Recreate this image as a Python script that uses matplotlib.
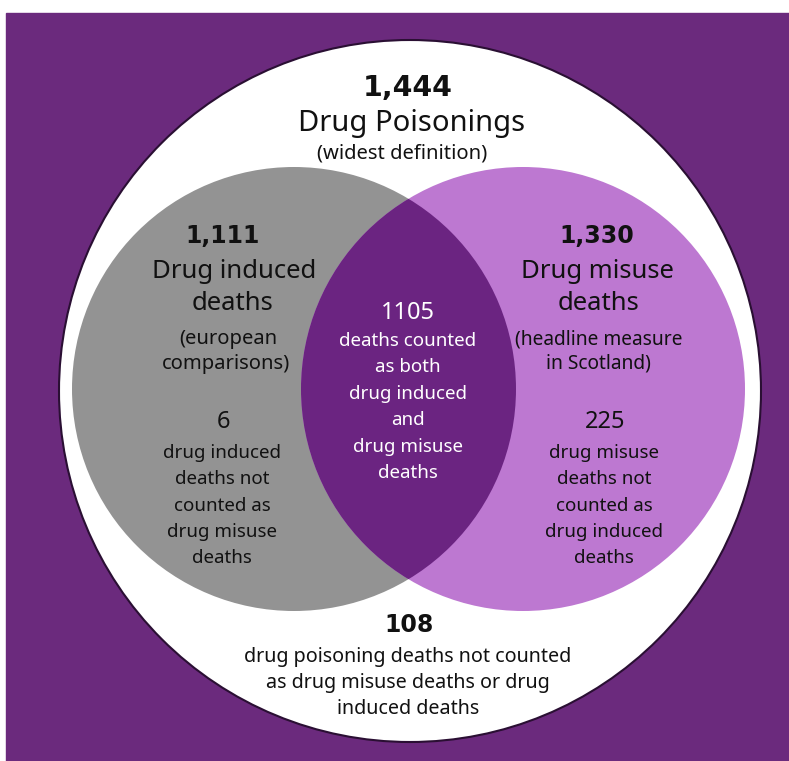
import numpy as np
import matplotlib.pyplot as plt
from matplotlib.patches import Circle, Rectangle

# counts shown in the diagram
total_poisonings = 1444
induced_total = 1111
misuse_total = 1330
both_count = 1105
induced_only = 6
misuse_only = 225
neither_count = 108

bg_purple = '#6b2a7d'
gray = '#939393'
pink = '#bd78d1'
lens = '#6b2481'
body = 'Noto Sans'

fig = plt.figure(figsize=(7.89, 7.61), dpi=100)
ax = fig.add_axes([0, 0, 1, 1])
ax.set_xlim(0, 789)
ax.set_ylim(761, 0)
ax.set_aspect('auto')
ax.axis('off')

# purple panel with the white strip along top and left
ax.add_patch(Rectangle((6, 13), 790, 760, color=bg_purple, zorder=0))

# outer circle
ax.add_patch(Circle((410, 391), 351, facecolor='white', edgecolor='#2a0f33', lw=1.5, zorder=1))

# two sets
left = Circle((294, 389), 222, facecolor=gray, edgecolor='none', zorder=2)
right = Circle((523, 389), 222, facecolor=pink, edgecolor='none', zorder=3)
ax.add_patch(left)
ax.add_patch(right)
overlap = Circle((523, 389), 222, facecolor=lens, edgecolor='none', zorder=4)
ax.add_patch(overlap)
overlap.set_clip_path(Circle((294, 389), 222, transform=ax.transData))


def txt(x, y, s, size, color='#111111', bold=False):
    if bold:
        ax.text(x, y, s, fontsize=size, color=color, ha='center', va='center',
                family='DejaVu Sans', fontweight='bold', zorder=10)
    else:
        ax.text(x, y, s, fontsize=size, color=color, ha='center', va='center',
                family=body, zorder=10)


# top
txt(408, 88, f'{total_poisonings:,}', 20.5, bold=True)
txt(412, 124, 'Drug Poisonings', 21)
txt(402, 154, '(widest definition)', 14.5)

# left set
txt(223, 236, f'{induced_total:,}', 17, bold=True)
txt(234, 271, 'Drug induced', 18.5)
txt(233, 304, 'deaths', 18.5)
txt(228, 339, '(european', 14.5)
txt(226, 364, 'comparisons)', 14.5)
txt(224, 422, str(induced_only), 17)
for i, line in enumerate(['drug induced', 'deaths not', 'counted as', 'drug misuse', 'deaths']):
    txt(222, 453 + i * 26.3, line, 13.5)

# right set
txt(597, 236, f'{misuse_total:,}', 17, bold=True)
txt(597, 271, 'Drug misuse', 18.5)
txt(599, 304, 'deaths', 18.5)
txt(599, 339, '(headline measure', 13.8)
txt(598, 364, 'in Scotland)', 13.8)
txt(605, 422, str(misuse_only), 17)
for i, line in enumerate(['drug misuse', 'deaths not', 'counted as', 'drug induced', 'deaths']):
    txt(604, 453 + i * 26.3, line, 13.5)

# overlap
txt(408, 313, str(both_count), 17, color='white')
for i, line in enumerate(['deaths counted', 'as both', 'drug induced', 'and', 'drug misuse', 'deaths']):
    txt(408, 341 + i * 26.4, line, 13.5, color='white')

# outside both sets
txt(409, 625, str(neither_count), 17, bold=True)
for i, line in enumerate(['drug poisoning deaths not counted',
                          'as drug misuse deaths or drug',
                          'induced deaths']):
    txt(408, 657 + i * 25.8, line, 14.2)

fig.savefig('out.png', dpi=100, facecolor='white')
